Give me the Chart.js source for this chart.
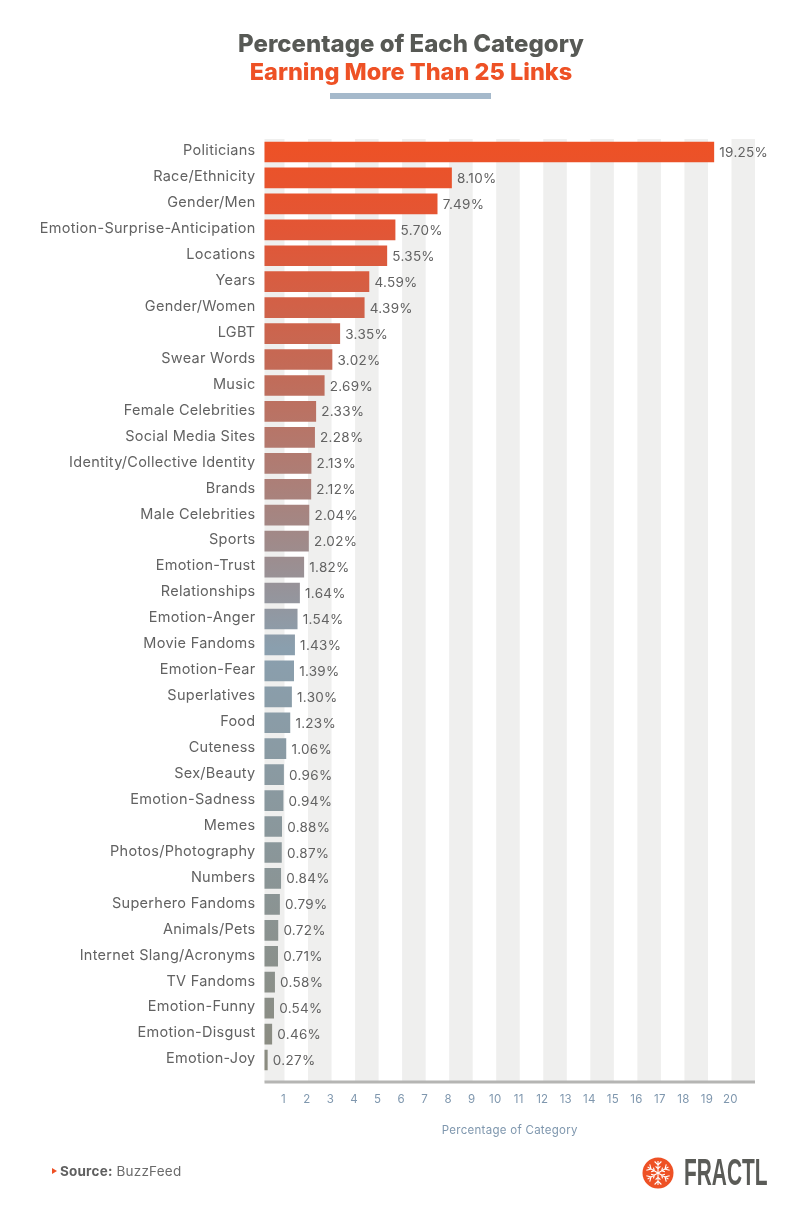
<!DOCTYPE html>
<html>
<head>
<meta charset="utf-8">
<title>Percentage of Each Category Earning More Than 25 Links</title>
<script src="https://cdn.jsdelivr.net/npm/chart.js@4"></script>
<style>
    html, body { margin: 0; padding: 0; background: #fff; }
    #page { position: relative; width: 801px; height: 1211px; overflow: hidden; font-family: Inter, sans-serif; }
    #myChart { position: absolute; left: 0; top: 0; }
    .title { position: absolute; left: 0; width: 822px; text-align: center; font-weight: 800; line-height: 28px; white-space: nowrap; }
    .title--top { top: 30px; font-size: 24px; color: #575955; }
    .title--bottom { top: 58px; font-size: 23.5px; color: #ee5125; }
    .rule { position: absolute; left: 330px; top: 93px; width: 161px; height: 6px; background: #a5b9cb; }
    .source { position: absolute; left: 60px; top: 1163px; font-size: 13.5px; line-height: 17px; letter-spacing: 0.2px; color: #6a6a6a; }
    .source b { color: #5f5f5f; }
    .source-mark { position: absolute; left: 52px; top: 1168px; width: 0; height: 0; border-left: 5px solid #ee5125; border-top: 3px solid transparent; border-bottom: 3px solid transparent; }
    .brand { position: absolute; left: 684px; top: 1152px; font-family: "Liberation Sans", sans-serif; font-weight: 700; font-size: 36px; line-height: 42px; color: #5a5b57; transform: scaleX(0.58); transform-origin: left top; }
    #logo { position: absolute; left: 642px; top: 1157px; }
</style>
</head>
<body>
<div id="page">
    <canvas id="myChart" width="801" height="1211"></canvas>
    <div class="title title--top">Percentage of Each Category</div>
    <div class="title title--bottom">Earning More Than 25 Links</div>
    <div class="rule"></div>
    <div class="source-mark"></div>
    <div class="source"><b>Source:</b> BuzzFeed</div>
    <svg id="logo" width="32" height="32" viewBox="-16 -16 32 32"></svg>
    <div class="brand">FRACTL</div>
</div>
<script>
const categories = [
    "Politicians", "Race/Ethnicity", "Gender/Men", "Emotion-Surprise-Anticipation",
    "Locations", "Years", "Gender/Women", "LGBT", "Swear Words", "Music",
    "Female Celebrities", "Social Media Sites", "Identity/Collective Identity", "Brands",
    "Male Celebrities", "Sports", "Emotion-Trust", "Relationships", "Emotion-Anger",
    "Movie Fandoms", "Emotion-Fear", "Superlatives", "Food", "Cuteness", "Sex/Beauty",
    "Emotion-Sadness", "Memes", "Photos/Photography", "Numbers", "Superhero Fandoms",
    "Animals/Pets", "Internet Slang/Acronyms", "TV Fandoms", "Emotion-Funny",
    "Emotion-Disgust", "Emotion-Joy",
];
const percentages = [
    19.25, 8.10, 7.49, 5.70, 5.35, 4.59, 4.39, 3.35, 3.02, 2.69, 2.33, 2.28,
    2.13, 2.12, 2.04, 2.02, 1.82, 1.64, 1.54, 1.43, 1.39, 1.30, 1.23, 1.06,
    0.96, 0.94, 0.88, 0.87, 0.84, 0.79, 0.72, 0.71, 0.58, 0.54, 0.46, 0.27,
];
const xTickValues = [1, 2, 3, 4, 5, 6, 7, 8, 9, 10, 11, 12, 13, 14, 15, 16, 17, 18, 19, 20];
const axisMin = 0.15;
const axisMax = 21;

const LABEL_FONT = "Inter, sans-serif";

// logo snowflake
var logo = document.getElementById("logo");
var logoMarkup = '<circle r="15.5" fill="#ee5125"/>';
for (var i = 0; i < 6; i++) {
    logoMarkup += '<g transform="rotate(' + (i * 60) + ')" stroke="#fff" stroke-width="1.1" fill="none">' +
        '<path d="M0 0V-12M-3.4 -11.5L0 -8L3.4 -11.5M-2.4 -6.6L0 -4.2L2.4 -6.6"/></g>';
}
logo.innerHTML = logoMarkup;

// grey bands behind the bars and the heavy base line
const bandsPlugin = {
    id: "bands",
    beforeDraw(chart) {
        // the original face is wider than anything installed
        chart.ctx.letterSpacing = "0.28px";
    },
    beforeDatasetsDraw(chart) {
        const c = chart.ctx;
        const x = chart.scales.x;
        const area = chart.chartArea;
        const bottom = area.bottom + 9;
        c.save();
        c.fillStyle = "#efefee";
        var edges = [axisMin].concat(xTickValues, [axisMax]);
        for (var i = 0; i < edges.length - 1; i += 2) {
            var left = x.getPixelForValue(edges[i]);
            var right = x.getPixelForValue(edges[i + 1]);
            c.fillRect(left, area.top, right - left, bottom - area.top);
        }
        c.fillStyle = "#b5b5b3";
        c.fillRect(area.left, bottom - 1.5, area.right - area.left, 3);
        c.restore();
    },
};

// value labels at the end of each bar
const valueLabelsPlugin = {
    id: "valueLabels",
    afterDatasetsDraw(chart) {
        const c = chart.ctx;
        const bars = chart.getDatasetMeta(0).data;
        c.save();
        c.font = "13.5px " + LABEL_FONT;
        c.fillStyle = "#626262";
        c.textAlign = "left";
        c.textBaseline = "middle";
        bars.forEach(function (bar, i) {
            c.fillText(percentages[i].toFixed(2) + "%", bar.x + 5.5, bar.y + 1);
        });
        c.restore();
    },
};

function barGradient(context) {
    const area = context.chart.chartArea;
    if (!area) {
        return "#ee5125";
    }
    const g = context.chart.ctx.createLinearGradient(0, area.top, 0, area.bottom);
    g.addColorStop(0, "#ee5125");
    g.addColorStop(0.1, "#e25636");
    g.addColorStop(0.25, "#c26b58");
    g.addColorStop(0.42, "#a28886");
    g.addColorStop(0.545, "#8a9fae");
    g.addColorStop(0.75, "#8a979b");
    g.addColorStop(1, "#8b8b7f");
    return g;
}

const ctx = document.getElementById("myChart").getContext("2d");
const myChart = new Chart(ctx, {
    type: "bar",
    plugins: [bandsPlugin, valueLabelsPlugin],
    data: {
        labels: categories,
        datasets: [
            {
                data: percentages,
                backgroundColor: barGradient,
                barThickness: 20,
                borderWidth: 0,
            },
        ],
    },
    options: {
        indexAxis: "y",
        responsive: false,
        animation: false,
        devicePixelRatio: 1,
        layout: {
            padding: { top: 139, right: 46, bottom: 74, left: 0 },
        },
        plugins: {
            legend: { display: false },
            title: { display: false },
            tooltip: { enabled: false },
        },
        scales: {
            x: {
                type: "linear",
                min: axisMin,
                max: axisMax,
                afterBuildTicks(scale) {
                    scale.ticks = xTickValues.map(function (v) {
                        return { value: v };
                    });
                },
                afterFit(scale) {
                    scale.height = 64;
                },
                grid: { display: false, drawTicks: false },
                border: { display: false },
                ticks: {
                    autoSkip: false,
                    maxRotation: 0,
                    padding: 20,
                    labelOffset: -1,
                    color: "#7f97ae",
                    font: { family: LABEL_FONT, size: 11.5 },
                },
                title: {
                    display: true,
                    text: "Percentage of Category",
                    color: "#7f97ae",
                    font: { family: LABEL_FONT, size: 11.5, weight: "normal" },
                    padding: 0,
                },
            },
            y: {
                afterFit(scale) {
                    scale.width = 264.5;
                },
                grid: { display: false, drawTicks: false },
                border: { display: false },
                ticks: {
                    autoSkip: false,
                    padding: 9,
                    labelOffset: -1,
                    color: "#626262",
                    font: { family: LABEL_FONT, size: 14.5 },
                },
            },
        },
    },
});
</script>
</body>
</html>
